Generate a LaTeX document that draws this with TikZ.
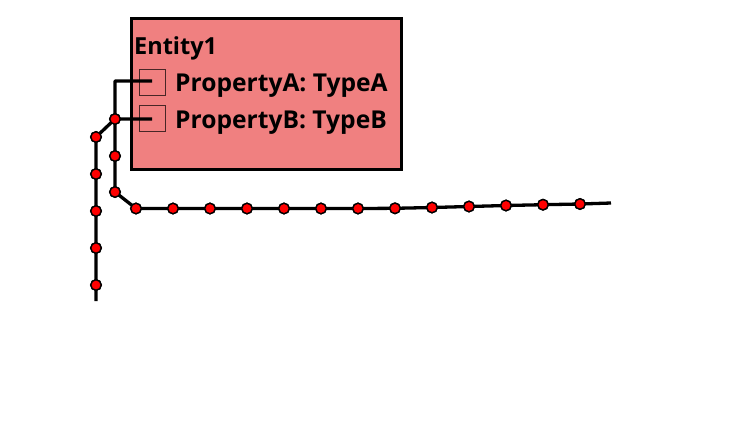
\documentclass[tikz,border=0pt]{standalone}
\usepackage{fontspec}
\setmainfont{Open Sans}
\definecolor{boxfill}{HTML}{F08080}
\begin{document}
\begin{tikzpicture}[x=1pt,y=-1pt,
  entitybox/.style={draw=black,line width=3pt,fill=boxfill,inner sep=0pt},
  propsq/.style={draw=black!70!boxfill,line width=0.8pt,minimum size=26pt,inner sep=0pt},
  lbl/.style={anchor=base west,inner sep=0pt,font=\bfseries\fontsize{24.6}{28}\selectfont},
  wire/.style={line width=3.3pt,line join=round},
  dot/.style={circle,draw=black,line width=1.4pt,fill=red,minimum size=10.5pt,inner sep=0pt}]
\useasboundingbox (0,0) rectangle (734,432);
\node[entitybox,minimum width=270pt,minimum height=151pt] (ent) at (266,93.5) {};
\node[lbl,font=\bfseries\fontsize{23.5}{28}\selectfont] (title) at (134,54) {Entity1};
\node[propsq] (sqa) at (152,82) {};
\node[propsq] (sqb) at (152,118) {};
\node[lbl] (pa) at (175,91) {PropertyA: TypeA};
\node[lbl] (pb) at (175,128) {PropertyB: TypeB};
% bends and ends
\coordinate (a0) at (152,81);
\coordinate (a1) at (115,81);
\coordinate (aend) at (96,301);
\coordinate (b0) at (152,119);
\coordinate (bend) at (611,203);
% dots
\node[dot] (j) at (115,119) {};
\node[dot] (p1) at (96,137) {};
\node[dot] (p2) at (96,174) {};
\node[dot] (p3) at (96,211) {};
\node[dot] (p4) at (96,248) {};
\node[dot] (p5) at (96,285) {};
\node[dot] (q1) at (115,156) {};
\node[dot] (q2) at (115,192) {};
\node[dot] (q3) at (136,208.5) {};
\node[dot] (q4) at (173,208.5) {};
\node[dot] (q5) at (210,208.5) {};
\node[dot] (q6) at (247,208.5) {};
\node[dot] (q7) at (284,208.5) {};
\node[dot] (q8) at (321,208.5) {};
\node[dot] (q9) at (358,208.5) {};
\node[dot] (q10) at (395,208.3) {};
\node[dot] (q11) at (432,207.5) {};
\node[dot] (q12) at (469,206.5) {};
\node[dot] (q13) at (506,205.5) {};
\node[dot] (q14) at (543,204.7) {};
\node[dot] (q15) at (580,204) {};
\draw[wire] (a0) -- (a1) -- (j.center) -- (p1.center) -- (p2.center) -- (p3.center) -- (p4.center) -- (p5.center) -- (aend);
\draw[wire] (b0) -- (j.center) -- (q1.center) -- (q2.center) -- (q3.center) -- (q4.center) -- (q5.center) -- (q6.center) -- (q7.center) -- (q8.center) -- (q9.center) -- (q10.center) -- (q11.center) -- (q12.center) -- (q13.center) -- (q14.center) -- (q15.center) -- (bend);
\foreach \d in {j,p1,p2,p3,p4,p5,q1,q2,q3,q4,q5,q6,q7,q8,q9,q10,q11,q12,q13,q14,q15}
  \node[dot] at (\d) {};
\end{tikzpicture}
\end{document}
